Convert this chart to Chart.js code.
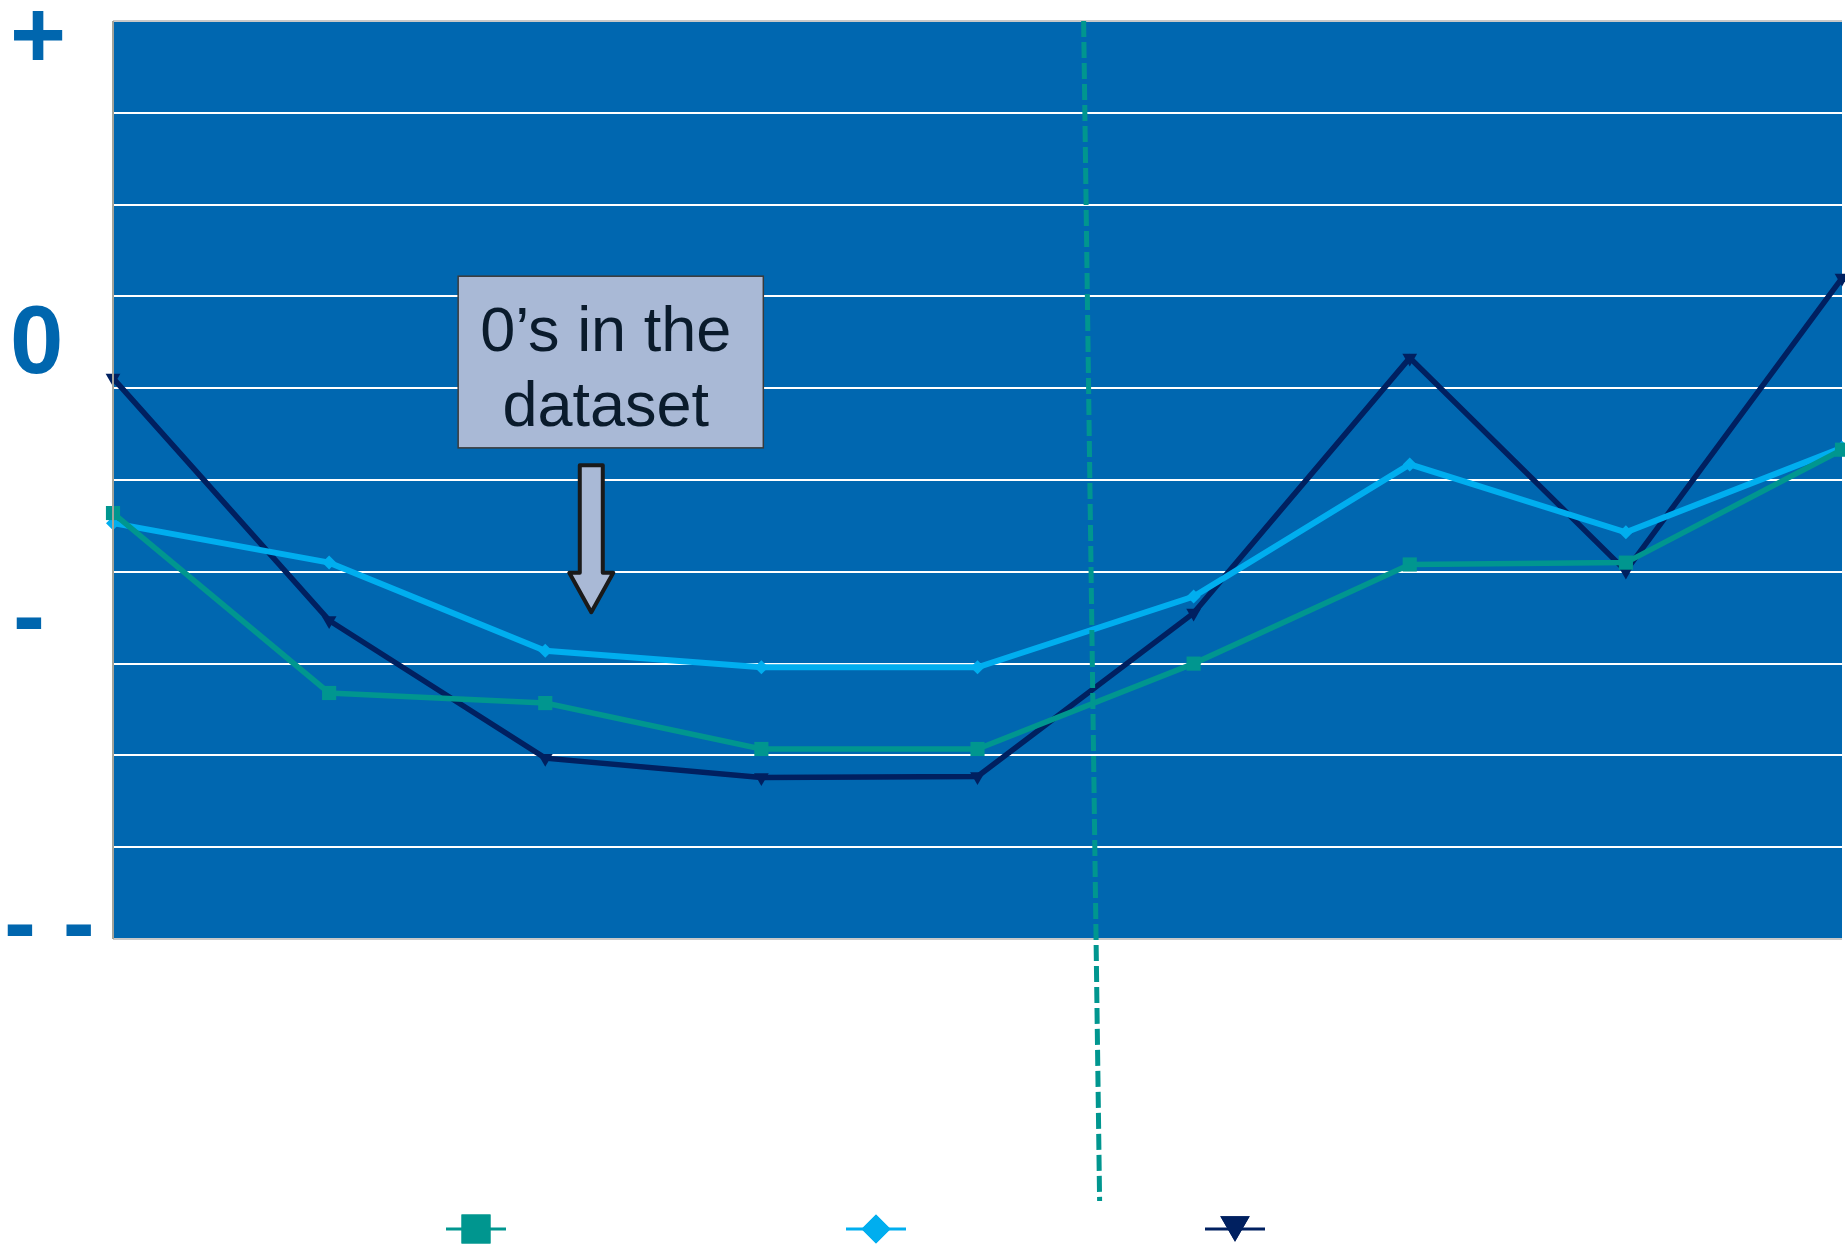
<!DOCTYPE html>
<html>
<head>
<meta charset="utf-8">
<style>
  html, body { margin: 0; padding: 0; background: #ffffff; }
  #wrap { width: 1845px; height: 1253px; }
</style>
<script src="https://cdn.jsdelivr.net/npm/chart.js@4/dist/chart.umd.min.js"></script>
</head>
<body>
<div id="wrap"><canvas id="chart" width="1845" height="1253"></canvas></div>
<script>
// Nine sampling points along the horizontal axis (no labels shown)
const categories = ['', '', '', '', '', '', '', '', ''];

// Series values on a 0–10 scale
const seriesSquare  = [4.64, 2.68, 2.57, 2.07, 2.07, 3.00, 4.08, 4.10, 5.33];
const seriesDiamond = [4.53, 4.10, 3.14, 2.96, 2.96, 3.73, 5.17, 4.43, 5.35];
const seriesTriangle = [6.11, 3.47, 1.97, 1.76, 1.77, 3.55, 6.33, 4.01, 7.20];

// Qualitative labels along the left side
const sideLabels = ['+', '0', '-', '- -'];
const sideLabelBaselines = [9.49, 6.17, 3.17, -0.17];

// Callout text
const calloutLines = ['0\u2019s in the', 'dataset'];

const COLORS = {
  plot: '#0067B0',
  grid: '#FFFFFF',
  frame: '#A3A39A',
  square: '#00968F',
  diamond: '#00AEEF',
  triangle: '#002060',
  sideText: '#0066AE',
  callFill: '#A9B9D6',
  callText: '#0A1B2C'
};

// Placement of the decorations, expressed in axis units
const LAYOUT = {
  divider: { x0: 4.491, y0: 10, x1: 4.565, y1: -2.854 },
  callout: { x0: 1.597, x1: 3.009, y0: 7.22, y1: 5.35 },
  arrow: { x: 2.213, yTop: 5.16, yHead: 3.99, yTip: 3.56 },
  sideLabelX: [10, 10, 13, 4],
  legendX: [476, 876, 1235],
  legendY: 1229
};

const plotDecor = {
  id: 'plotDecor',
  beforeDraw(chart) {
    const { ctx, chartArea: a } = chart;
    ctx.save();
    ctx.fillStyle = COLORS.plot;
    ctx.fillRect(a.left, a.top, a.right - a.left, a.bottom - a.top);
    ctx.restore();
  },
  afterDatasetsDraw(chart) {
    const { ctx, chartArea: a } = chart;
    const xs = chart.scales.x, ys = chart.scales.y;

    // frame on the left edge
    ctx.save();
    ctx.strokeStyle = COLORS.frame;
    ctx.lineWidth = 2;
    ctx.beginPath();
    ctx.moveTo(a.left, a.top);
    ctx.lineTo(a.left, a.bottom);
    ctx.stroke();

    // dashed divider
    const d = LAYOUT.divider;
    ctx.strokeStyle = COLORS.square;
    ctx.lineWidth = 5;
    ctx.setLineDash([16, 5]);
    ctx.beginPath();
    ctx.moveTo(xs.getPixelForValue(d.x0), ys.getPixelForValue(d.y0));
    ctx.lineTo(xs.getPixelForValue(d.x1), ys.getPixelForValue(d.y1));
    ctx.stroke();
    ctx.setLineDash([]);

    // callout box
    const c = LAYOUT.callout;
    const bx0 = xs.getPixelForValue(c.x0), bx1 = xs.getPixelForValue(c.x1);
    const by0 = ys.getPixelForValue(c.y0), by1 = ys.getPixelForValue(c.y1);
    ctx.fillStyle = COLORS.callFill;
    ctx.fillRect(bx0, by0, bx1 - bx0, by1 - by0);
    ctx.strokeStyle = '#3A3A3A';
    ctx.lineWidth = 1.5;
    ctx.strokeRect(bx0, by0, bx1 - bx0, by1 - by0);
    ctx.fillStyle = COLORS.callText;
    ctx.font = '63px "Liberation Sans", Arial, sans-serif';
    ctx.textAlign = 'center';
    ctx.textBaseline = 'alphabetic';
    const cx = (bx0 + bx1) / 2 - 5;
    ctx.fillText(calloutLines[0], cx, by0 + 75);
    ctx.fillText(calloutLines[1], cx, by0 + 150);

    // block arrow pointing down
    const ar = LAYOUT.arrow;
    const ax = xs.getPixelForValue(ar.x);
    const aTop = ys.getPixelForValue(ar.yTop);
    const aHead = ys.getPixelForValue(ar.yHead);
    const aTip = ys.getPixelForValue(ar.yTip);
    const sw = 11.5, hw = 22;
    ctx.beginPath();
    ctx.moveTo(ax - sw, aTop);
    ctx.lineTo(ax + sw, aTop);
    ctx.lineTo(ax + sw, aHead);
    ctx.lineTo(ax + hw, aHead);
    ctx.lineTo(ax, aTip);
    ctx.lineTo(ax - hw, aHead);
    ctx.lineTo(ax - sw, aHead);
    ctx.closePath();
    ctx.fillStyle = COLORS.callFill;
    ctx.fill();
    ctx.strokeStyle = '#1A1A1A';
    ctx.lineWidth = 4;
    ctx.lineJoin = 'round';
    ctx.stroke();
    ctx.restore();
  },
  afterDraw(chart) {
    const { ctx } = chart;
    const ys = chart.scales.y;
    ctx.save();
    // side labels
    ctx.fillStyle = COLORS.sideText;
    ctx.font = 'bold 96px "Liberation Sans", Arial, sans-serif';
    ctx.textAlign = 'left';
    ctx.textBaseline = 'alphabetic';
    sideLabels.forEach((t, i) => {
      ctx.fillText(t, LAYOUT.sideLabelX[i], ys.getPixelForValue(sideLabelBaselines[i]));
    });

    // legend: line with marker, no text
    chart.data.datasets.forEach((ds, i) => {
      const lx = LAYOUT.legendX[i], ly = LAYOUT.legendY;
      ctx.strokeStyle = ds.borderColor;
      ctx.lineWidth = 3;
      ctx.beginPath();
      ctx.moveTo(lx - 30, ly);
      ctx.lineTo(lx + 30, ly);
      ctx.stroke();
      ctx.fillStyle = ds.borderColor;
      // a downward triangle is centred on its circumcentre; lift it so its box is centred on the line
      const my = ds.pointStyle === 'triangle' ? ly - ds.legendRadius / 4 : ly;
      Chart.helpers.drawPoint(ctx, {
        pointStyle: ds.pointStyle,
        rotation: ds.pointRotation || 0,
        radius: ds.legendRadius,
        borderWidth: 0
      }, lx, my);
      ctx.fill();
    });
    ctx.restore();
  }
};

new Chart(document.getElementById('chart'), {
  type: 'line',
  data: {
    labels: categories,
    datasets: [
      {
        data: seriesSquare,
        borderColor: COLORS.square,
        backgroundColor: COLORS.square,
        borderWidth: 5.5,
        pointStyle: 'rect',
        pointRadius: 10,
        pointBorderWidth: 0,
        legendRadius: 20.5,
        tension: 0
      },
      {
        data: seriesDiamond,
        borderColor: COLORS.diamond,
        backgroundColor: COLORS.diamond,
        borderWidth: 6,
        pointStyle: 'rectRot',
        pointRadius: 7,
        pointBorderWidth: 0,
        legendRadius: 14.5,
        tension: 0
      },
      {
        data: seriesTriangle,
        borderColor: COLORS.triangle,
        backgroundColor: COLORS.triangle,
        borderWidth: 5.5,
        pointStyle: 'triangle',
        pointRotation: 180,
        pointRadius: 8.5,
        pointBorderWidth: 0,
        legendRadius: 17,
        tension: 0
      }
    ]
  },
  options: {
    responsive: false,
    animation: false,
    events: [],
    layout: { autoPadding: false, padding: { left: 113, top: 21, right: 3, bottom: 314 } },
    plugins: {
      legend: { display: false },
      tooltip: { enabled: false }
    },
    scales: {
      x: {
        type: 'category',
        offset: false,
        ticks: { display: false },
        grid: { display: false },
        border: { display: false },
        afterFit(s) { s.height = 0; }
      },
      y: {
        min: 0,
        max: 10,
        ticks: { display: false, stepSize: 1 },
        grid: {
          drawTicks: false,
          tickLength: 0,
          lineWidth: 2,
          color: (c) => (c.tick && (c.tick.value === 0 || c.tick.value === 10)) ? '#C8C8C8' : COLORS.grid
        },
        border: { display: false },
        afterFit(s) { s.width = 0; }
      }
    }
  },
  plugins: [plotDecor]
});
</script>
</body>
</html>
